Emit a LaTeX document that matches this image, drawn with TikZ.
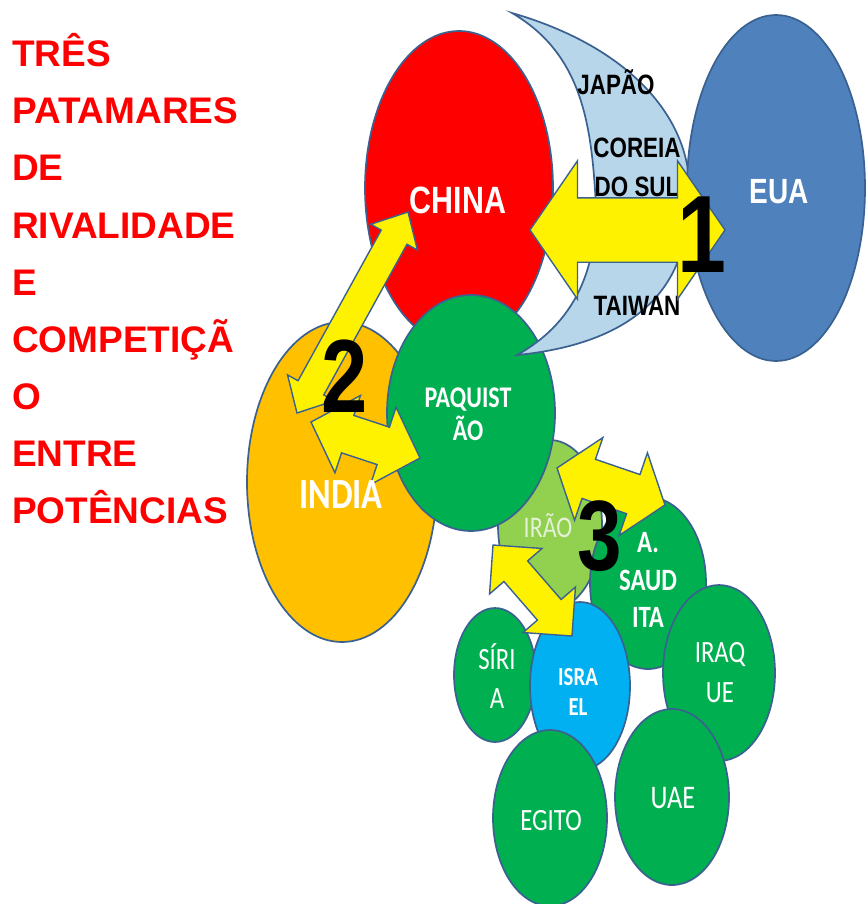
\documentclass[tikz,border=0pt]{standalone}
\usepackage{fontspec}
\setmainfont{Liberation Sans}
\newfontfamily\narrowsf[FakeStretch=0.8]{Liberation Sans}
\newfontfamily\calsf[FakeStretch=0.8]{Carlito}
\usetikzlibrary{shapes.geometric, shapes.arrows, calc}

\definecolor{edge}{HTML}{3A6190}
\definecolor{chinared}{HTML}{FF0000}
\definecolor{indiaorange}{HTML}{FFC000}
\definecolor{usblue}{HTML}{4F81BD}
\definecolor{leaf}{HTML}{00B050}
\definecolor{irangreen}{HTML}{92D050}
\definecolor{israelblue}{HTML}{00B0F0}
\definecolor{crescent}{HTML}{B8D6EA}
\definecolor{irantext}{HTML}{E4F1D6}

\newcommand{\rivalry}[5]{%
  \path let \p1=(#1), \p2=(#2),
            \n1={atan2(\y2-\y1,\x2-\x1)}, \n2={veclen(\x2-\x1,\y2-\y1)},
            \n3={2*atan(#4/(2*#5))} in
    ($(\p1)!0.5!(\p2)$) node[rival, rotate=\n1, minimum height=\n2, inner ysep=#3/2,
      double arrow head extend=(#4-#3)/2, double arrow tip angle=\n3] {};
}

\begin{document}
\begin{tikzpicture}[x=1pt, y=-1pt,
    land/.style={ellipse, draw=edge, line width=1.7pt, inner sep=0pt},
    rival/.style={double arrow, draw=edge, fill=yellow, line width=1.4pt, inner xsep=0pt, minimum width=0pt},
    lbl/.style={inner sep=0pt, align=center, text=white},
    tag/.style={inner sep=0pt, align=center, font=\narrowsf\bfseries\fontsize{28}{39}\selectfont},
    headline/.style={anchor=base west, inner sep=0pt, text=red, font=\bfseries\fontsize{37}{40}\selectfont},
    big/.style={anchor=base, inner sep=0pt, font=\narrowsf\bfseries\fontsize{#1}{#1}\selectfont}]
  \useasboundingbox (0,0) rectangle (866,904);

  \foreach \w [count=\i] in {TRÊS,PATAMARES,DE,RIVALIDADE,E,COMPETIÇÃ,O,ENTRE,POTÊNCIAS}
    \node[headline] (t\i) at (12,{67+57*(\i-1)}) {\w};

  \node[land, fill=chinared, minimum width=188, minimum height=314] (china) at (459,188) {};
  \node[land, fill=indiaorange, minimum width=190, minimum height=320] (india) at (342,482) {};
  \node[land, fill=irangreen, minimum width=104, minimum height=170] (irao) at (550,525) {};
  \node[land, fill=leaf, minimum width=168, minimum height=236] (paq) at (471,413) {};
  \draw[draw=edge, line width=1.7pt, fill=crescent] (512,13)
    .. controls (640,50) and (700,130) .. (688,210)
    .. controls (685,300) and (620,345) .. (517,355)
    .. controls (580,320) and (600,260) .. (595,190)
    .. controls (590,110) and (575,50) .. (512,13) -- cycle;
  \node[land, fill=usblue, minimum width=178, minimum height=346] (eua) at (776,188) {};
  \node[land, fill=leaf, minimum width=116, minimum height=172] (saudi) at (648,583) {};
  \node[land, fill=leaf, minimum width=82, minimum height=134] (siria) at (495,675) {};
  \node[land, fill=israelblue, minimum width=100, minimum height=168] (israel) at (580,686) {};
  \node[land, fill=leaf, minimum width=112, minimum height=176] (iraque) at (719,673) {};
  \node[land, fill=leaf, minimum width=114, minimum height=176] (egito) at (550,818) {};
  \node[land, fill=leaf, minimum width=114, minimum height=176] (uae) at (672,797) {};

  \node[tag, anchor=base] (japao) at (616,95) {JAPÃO};
  \node[tag] (coreia) at (637,167) {COREIA\\DO SUL};
  \node[tag, anchor=base] (taiwan) at (637,315) {TAIWAN};

  \coordinate (c1) at (530,230); \coordinate (u1) at (725,230);
  \coordinate (i1) at (297,413); \coordinate (c2) at (408,212);
  \coordinate (i2) at (311,422); \coordinate (p2) at (420,458);
  \coordinate (r1) at (557,468); \coordinate (s1) at (665,505);
  \coordinate (r2) at (493,545); \coordinate (e1) at (572,636);
  \rivalry{c1}{u1}{63}{137}{47}
  \rivalry{i2}{p2}{38}{80}{38}
  \rivalry{i1}{c2}{28}{52}{28}
  \rivalry{r1}{s1}{40}{86}{33}
  \rivalry{r2}{e1}{30}{68}{34}

  \node[lbl, anchor=base, font=\narrowsf\bfseries\fontsize{38}{40}\selectfont] (chinaL) at (458,213) {CHINA};
  \node[lbl, anchor=base, font=\narrowsf\bfseries\fontsize{35}{40}\selectfont] (euaL) at (779,203) {EUA};
  \node[lbl, anchor=base, font=\calsf\bfseries\fontsize{43}{45}\selectfont] (indiaL) at (341,508) {INDIA};
  \node[lbl, font=\calsf\bfseries\fontsize{30}{33}\selectfont] (paqL) at (468,414) {PAQUIST\\ÃO};
  \node[lbl, anchor=base, text=irantext, font=\calsf\fontsize{30}{33}\selectfont] (iraoL) at (548,537) {IRÃO};
  \node[lbl, font=\calsf\bfseries\fontsize{31}{37.5}\selectfont] (saudiL) at (648,580) {A.\\SAUD\\ITA};
  \node[lbl, font=\calsf\fontsize{31}{39}\selectfont] (siriaL) at (497,676) {SÍRI\\A};
  \node[lbl, font=\calsf\bfseries\fontsize{26}{30}\selectfont] (israelL) at (578,692) {ISRA\\EL};
  \node[lbl, font=\calsf\fontsize{31}{40}\selectfont] (iraqueL) at (720,673) {IRAQ\\UE};
  \node[lbl, anchor=base, font=\calsf\fontsize{31}{33}\selectfont] (egitoL) at (551,830) {EGITO};
  \node[lbl, anchor=base, font=\calsf\fontsize{33}{35}\selectfont] (uaeL) at (673,808) {UAE};

  \node[big=110] (n1) at (702,272) {1};
  \node[big=104] (n2) at (345,412) {2};
  \node[big=100] (n3) at (600,570) {3};
\end{tikzpicture}
\end{document}
